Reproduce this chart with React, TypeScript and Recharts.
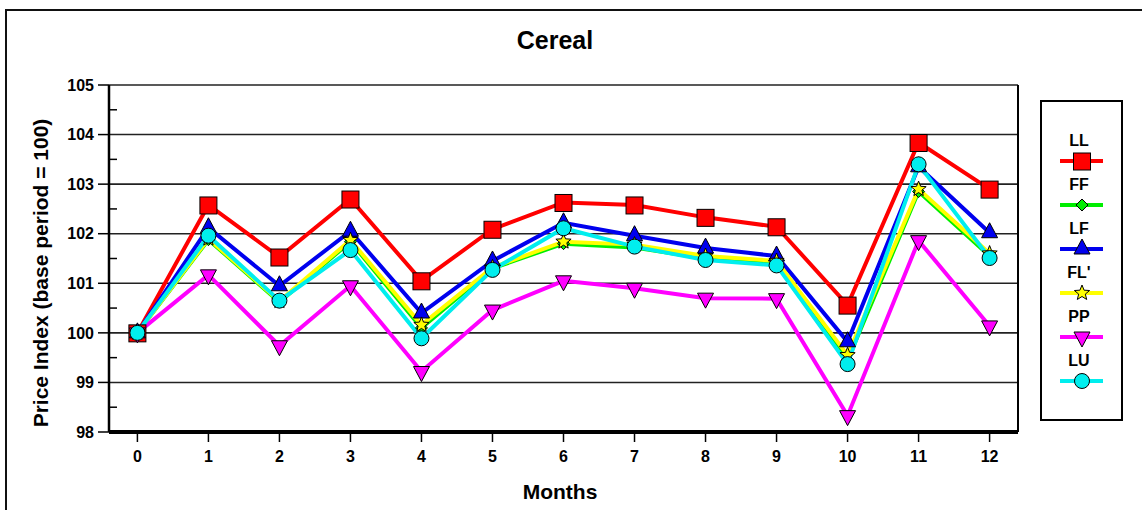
import React from "react";
import {LineChart, Line, XAxis, YAxis, CartesianGrid, ReferenceLine} from "recharts";

const months = [0, 1, 2, 3, 4, 5, 6, 7, 8, 9, 10, 11, 12];

const ll = [100, 102.58, 101.53, 102.7, 101.05, 102.09, 102.63, 102.58, 102.33, 102.14, 100.56, 103.84, 102.9];
const ff = [100, 101.88, 100.62, 101.84, 100.1, 101.3, 101.8, 101.72, 101.5, 101.4, 99.45, 102.85, 101.55];
const lf = [100, 102.12, 100.95, 102.05, 100.4, 101.45, 102.22, 101.96, 101.71, 101.55, 99.82, 103.35, 102.02];
const flp = [100, 101.9, 100.64, 101.87, 100.16, 101.32, 101.84, 101.78, 101.55, 101.45, 99.55, 102.9, 101.6];
const pp = [100, 101.17, 99.74, 100.95, 99.22, 100.46, 101.05, 100.9, 100.7, 100.69, 98.33, 101.86, 100.14];
const lu = [100, 101.96, 100.65, 101.67, 99.89, 101.27, 102.11, 101.74, 101.47, 101.36, 99.37, 103.4, 101.51];

const yTicks = [98, 99, 100, 101, 102, 103, 104, 105];
const yAllTicks = [98, 98.5, 99, 99.5, 100, 100.5, 101, 101.5, 102, 102.5, 103, 103.5, 104, 104.5, 105];

const FONT = "'Liberation Sans', Arial, Helvetica, sans-serif";

type Shape = "square" | "diamond" | "triUp" | "star" | "triDown" | "circle";

const series: {key: string; name: string; color: string; shape: Shape; values: number[]}[] = [
  {key: "ll", name: "LL", color: "#ff0000", shape: "square", values: ll},
  {key: "ff", name: "FF", color: "#00ee00", shape: "diamond", values: ff},
  {key: "lf", name: "LF", color: "#0000ee", shape: "triUp", values: lf},
  {key: "flp", name: "FL'", color: "#ffff00", shape: "star", values: flp},
  {key: "pp", name: "PP", color: "#ff00ff", shape: "triDown", values: pp},
  {key: "lu", name: "LU", color: "#00eeee", shape: "circle", values: lu},
];

const data = months.map((m, i) => {
  const row: Record<string, number> = {m};
  series.forEach((s) => (row[s.key] = s.values[i]));
  return row;
});

function marker(shape: Shape, cx: number, cy: number, fill: string, key?: string) {
  const st = {fill, stroke: "#000", strokeWidth: 1};
  switch (shape) {
    case "square":
      return <rect key={key} x={cx - 8.5} y={cy - 8} width={17} height={17} {...st} />;
    case "diamond":
      return <polygon key={key} points={`${cx},${cy - 6} ${cx + 6},${cy} ${cx},${cy + 6} ${cx - 6},${cy}`} {...st} />;
    case "triUp":
      return <polygon key={key} points={`${cx},${cy - 10} ${cx + 8},${cy + 5} ${cx - 8},${cy + 5}`} {...st} />;
    case "triDown":
      return <polygon key={key} points={`${cx - 8},${cy - 5} ${cx + 8},${cy - 5} ${cx},${cy + 10}`} {...st} />;
    case "star": {
      const pts: string[] = [];
      for (let k = 0; k < 10; k++) {
        const r = k % 2 === 0 ? 8 : 3.5;
        const a = -Math.PI / 2 + (k * Math.PI) / 5;
        pts.push(`${cx + r * Math.cos(a)},${cy + r * Math.sin(a)}`);
      }
      return <polygon key={key} points={pts.join(" ")} {...st} />;
    }
    default:
      return <circle key={key} cx={cx} cy={cy} r={7.5} {...st} />;
  }
}

const tickStyle = {fontFamily: FONT, fontWeight: 700, fontSize: 16, fill: "#000"};

const Y_TICK_SIZE = 11;
const Y_TICK_MARGIN = 4;

// major ticks point outward with a label, half-step ticks point inward
function YTick(p: any) {
  const v = p.payload.value;
  const ax = p.x + Y_TICK_SIZE + Y_TICK_MARGIN;
  const major = Number.isInteger(v);
  return (
    <g>
      {major ? (
        <line x1={ax - Y_TICK_SIZE} x2={ax} y1={p.y} y2={p.y} stroke="#000" strokeWidth={1.5} />
      ) : (
        <line x1={ax} x2={ax + 8} y1={p.y} y2={p.y} stroke="#000" strokeWidth={1.5} />
      )}
      {major && (
        <text x={p.x} y={p.y} dy="0.355em" textAnchor="end" {...tickStyle}>
          {v}
        </text>
      )}
    </g>
  );
}

export default function App() {
  return (
    <div style={{position: "fixed", left: 0, top: 0, width: 1142, height: 510, overflow: "hidden", background: "#fff"}}>
      <div style={{position: "absolute", left: 5, top: 9, width: 1160, height: 530, border: "2px solid #111"}} />

      <div style={{position: "absolute", left: 0, top: 0}}>
        <LineChart width={1142} height={510} data={data} margin={{top: 85, right: 124, bottom: 48, left: 49}}>
          <CartesianGrid vertical={false} horizontalValues={yTicks} stroke="#222" strokeWidth={1.6} />
          <XAxis
            dataKey="m"
            type="number"
            domain={[-0.4, 12.4]}
            ticks={months}
            height={30}
            tickSize={10}
            tickMargin={9}
            axisLine={{stroke: "#000", strokeWidth: 4}}
            tickLine={{stroke: "#000", strokeWidth: 1.5}}
            tick={tickStyle}
          />
          <YAxis
            domain={[98, 105]}
            ticks={yAllTicks}
            interval={0}
            width={60}
            tickSize={Y_TICK_SIZE}
            tickMargin={Y_TICK_MARGIN}
            allowDataOverflow
            axisLine={{stroke: "#000", strokeWidth: 2.5}}
            tickLine={false}
            tick={YTick}
          />
          <ReferenceLine x={12.4} stroke="#000" strokeWidth={2} ifOverflow="visible" />
          {series.map((s) => (
            <Line
              key={s.key}
              dataKey={s.key}
              stroke={s.color}
              strokeWidth={4}
              isAnimationActive={false}
              dot={(p: any) => marker(s.shape, p.cx, p.cy, s.color, `${s.key}-${p.index}`)}
              activeDot={false}
            />
          ))}
        </LineChart>
      </div>

      <svg width={1142} height={510} style={{position: "absolute", left: 0, top: 0, pointerEvents: "none"}}>
        <text x={555} y={49} textAnchor="middle" fontFamily={FONT} fontWeight={700} fontSize={25}>
          Cereal
        </text>
        <text x={560} y={499} textAnchor="middle" fontFamily={FONT} fontWeight={700} fontSize={21}>
          Months
        </text>
        <text
          x={48}
          y={273}
          textAnchor="middle"
          fontFamily={FONT}
          fontWeight={700}
          fontSize={21}
          transform="rotate(-90, 48, 273)"
        >
          Price Index (base period = 100)
        </text>
      </svg>

      <svg width={83} height={321} style={{position: "absolute", left: 1040, top: 100}}>
        <rect x={1} y={1} width={81} height={319} fill="#fff" stroke="#000" strokeWidth={2} />
        {series.map((s, i) => (
          <g key={s.key}>
            <text x={39} y={46 + i * 44} textAnchor="middle" fontFamily={FONT} fontWeight={700} fontSize={16}>
              {s.name}
            </text>
            <line x1={20} x2={63} y1={61 + i * 44} y2={61 + i * 44} stroke={s.color} strokeWidth={4} />
            {marker(s.shape, 42, 61 + i * 44, s.color)}
          </g>
        ))}
      </svg>
    </div>
  );
}
